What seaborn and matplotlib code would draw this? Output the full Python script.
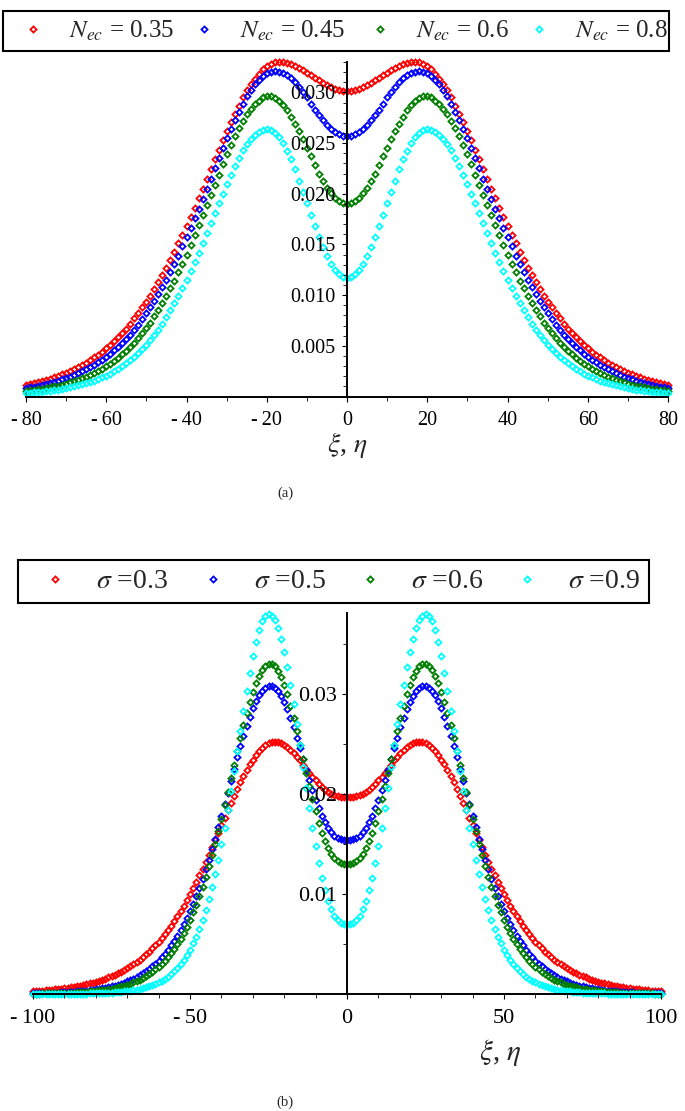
import numpy as np
import pandas as pd
import matplotlib
matplotlib.use("Agg")
import matplotlib.pyplot as plt
from matplotlib.patches import Rectangle
import seaborn as sns
from matplotlib.ticker import FixedLocator, MultipleLocator, FuncFormatter

sns.set_theme(style="white")
plt.rcParams["font.family"] = ["Liberation Serif", "DejaVu Serif"]
plt.rcParams["mathtext.fontset"] = "stix"

# ---------------- data (in units of 1e-4) ----------------
UNIT = 1e-4

# panel (a): xi from -80 to 80
xi_a = list(range(-80, 81))
labels_a = [r"$N_{ec}$ = 0.35", r"$N_{ec}$ = 0.45", r"$N_{ec}$ = 0.6", r"$N_{ec}$ = 0.8"]
nec_035 = [11, 12, 13, 14, 15, 16, 17, 19, 20, 22, 23, 25, 27, 29, 31, 33, 36, 39, 41, 44, 48,
           51, 55, 59, 63, 67, 72, 77, 82, 88, 93, 99, 106, 113, 120, 127, 135, 143, 151, 159, 168,
           177, 186, 196, 205, 215, 224, 234, 243, 253, 262, 271, 279, 287, 295, 302, 308, 313, 318, 323, 326,
           328, 330, 330, 330, 329, 328, 326, 324, 322, 319, 317, 314, 312, 309, 307, 305, 303, 302, 301,
           301, 301, 302, 303, 305, 307, 309, 312, 314, 317,
           319, 322, 324, 326, 328, 329, 330, 330, 330, 328,
           326, 323, 318, 313, 308, 302, 295, 287, 279, 271,
           262, 253, 243, 234, 224, 215, 205, 196, 186, 177,
           168, 159, 151, 143, 135, 127, 120, 113, 106, 99,
           93, 88, 82, 77, 72, 67, 63, 59, 55, 51,
           48, 44, 41, 39, 36, 33, 31, 29, 27, 25,
           23, 22, 20, 19, 17, 16, 15, 14, 13, 12, 11]
nec_045 = [8, 9, 9, 10, 11, 12, 13, 14, 15, 17, 18, 19, 21, 23, 25, 27, 29, 31, 34, 36, 39,
           42, 46, 49, 53, 57, 61, 66, 71, 76, 82, 88, 94, 101, 108, 115, 123, 131, 139, 148, 157,
           166, 176, 185, 195, 205, 215, 225, 235, 245, 255, 264, 273, 281, 289, 296, 302, 308, 312, 316, 319,
           320, 321, 320, 319, 317, 314, 310, 305, 300, 295, 289, 283, 278, 273, 268, 264, 261, 259, 257,
           257, 257, 259, 261, 264, 268, 273, 278, 283, 289,
           295, 300, 305, 310, 314, 317, 319, 320, 321, 320,
           319, 316, 312, 308, 302, 296, 289, 281, 273, 264,
           255, 245, 235, 225, 215, 205, 195, 185, 176, 166,
           157, 148, 139, 131, 123, 115, 108, 101, 94, 88,
           82, 76, 71, 66, 61, 57, 53, 49, 46, 42,
           39, 36, 34, 31, 29, 27, 25, 23, 21, 19,
           18, 17, 15, 14, 13, 12, 11, 10, 9, 9, 8]
nec_06 = [5, 6, 6, 7, 7, 8, 9, 10, 10, 11, 12, 14, 15, 16, 18, 19, 21, 23, 25, 27, 30,
          32, 35, 38, 42, 45, 49, 53, 58, 63, 68, 73, 79, 85, 92, 99, 107, 114, 123, 131, 140,
          149, 159, 169, 179, 189, 199, 209, 219, 229, 239, 248, 257, 265, 272, 279, 284, 289, 292, 295, 296,
          296, 294, 292, 288, 283, 276, 269, 262, 254, 245, 237, 228, 220, 213, 206, 201, 196, 193, 191,
          190, 191, 193, 196, 201, 206, 213, 220, 228, 237,
          245, 254, 262, 269, 276, 283, 288, 292, 294, 296,
          296, 295, 292, 289, 284, 279, 272, 265, 257, 248,
          239, 229, 219, 209, 199, 189, 179, 169, 159, 149,
          140, 131, 123, 114, 107, 99, 92, 85, 79, 73,
          68, 63, 58, 53, 49, 45, 42, 38, 35, 32,
          30, 27, 25, 23, 21, 19, 18, 16, 15, 14,
          12, 11, 10, 10, 9, 8, 7, 7, 6, 6, 5]
nec_08 = [3, 3, 4, 4, 4, 5, 5, 6, 6, 7, 8, 9, 10, 11, 12, 13, 14, 15, 17, 19, 20,
          22, 25, 27, 30, 33, 36, 39, 43, 47, 51, 56, 61, 66, 72, 78, 85, 92, 99, 107, 115,
          124, 133, 142, 151, 161, 171, 181, 191, 200, 210, 219, 227, 235, 243, 249, 254, 258, 261, 263, 264,
          263, 260, 256, 250, 242, 234, 224, 213, 202, 191, 179, 168, 157, 147, 139, 131, 125, 121, 118,
          117, 118, 121, 125, 131, 139, 147, 157, 168, 179,
          191, 202, 213, 224, 234, 242, 250, 256, 260, 263,
          264, 263, 261, 258, 254, 249, 243, 235, 227, 219,
          210, 200, 191, 181, 171, 161, 151, 142, 133, 124,
          115, 107, 99, 92, 85, 78, 72, 66, 61, 56,
          51, 47, 43, 39, 36, 33, 30, 27, 25, 22,
          20, 19, 17, 15, 14, 13, 12, 11, 10, 9,
          8, 7, 6, 6, 5, 5, 4, 4, 4, 3, 3]

# panel (b): xi from -100 to 100
xi_b = list(range(-100, 101))
labels_b = [r"$\sigma$ =0.3", r"$\sigma$ =0.5", r"$\sigma$ =0.6", r"$\sigma$ =0.9"]
sig_03 = [3, 3, 3, 3, 4, 4, 4, 5, 5, 5, 6, 6, 7, 7, 8, 8, 9, 10, 11, 11, 12,
          13, 14, 15, 17, 18, 19, 21, 22, 24, 26, 28, 30, 32, 34, 37, 40, 42, 46, 49, 52,
          56, 60, 64, 68, 73, 78, 83, 88, 94, 100, 106, 112, 119, 125, 132, 139, 147, 154, 161, 169,
          176, 184, 191, 198, 205, 212, 218, 224, 230, 234, 239, 243, 246, 249, 251, 252, 252, 252, 251, 249,
          247, 244, 241, 237, 234, 229, 225, 221, 217, 214, 210, 207, 204, 202, 200, 199, 198, 197, 197,
          197, 197, 197, 198, 199, 200, 202, 204, 207, 210,
          214, 217, 221, 225, 229, 234, 237, 241, 244, 247,
          249, 251, 252, 252, 252, 251, 249, 246, 243, 239,
          234, 230, 224, 218, 212, 205, 198, 191, 184, 176,
          169, 161, 154, 147, 139, 132, 125, 119, 112, 106,
          100, 94, 88, 83, 78, 73, 68, 64, 60, 56,
          52, 49, 46, 42, 40, 37, 34, 32, 30, 28,
          26, 24, 22, 21, 19, 18, 17, 15, 14, 13,
          12, 11, 11, 10, 9, 8, 8, 7, 7, 6,
          6, 5, 5, 5, 4, 4, 4, 3, 3, 3, 3]
sig_05 = [1, 1, 1, 1, 1, 1, 1, 1, 1, 2, 2, 2, 2, 2, 3, 3, 3, 3, 4, 4, 5,
          5, 6, 6, 7, 8, 8, 9, 10, 11, 13, 14, 15, 17, 19, 21, 23, 25, 28, 30, 33,
          37, 40, 44, 49, 53, 58, 64, 70, 76, 83, 90, 98, 106, 115, 125, 134, 145, 155, 167, 178,
          190, 201, 213, 225, 237, 248, 258, 268, 277, 286, 293, 299, 303, 306, 308, 308, 306, 303, 298, 292,
          285, 276, 267, 256, 246, 235, 224, 214, 204, 194, 186, 178, 172, 166, 162, 158, 156, 155, 154,
          154, 154, 155, 156, 158, 162, 166, 172, 178, 186,
          194, 204, 214, 224, 235, 246, 256, 267, 276, 285,
          292, 298, 303, 306, 308, 308, 306, 303, 299, 293,
          286, 277, 268, 258, 248, 237, 225, 213, 201, 190,
          178, 167, 155, 145, 134, 125, 115, 106, 98, 90,
          83, 76, 70, 64, 58, 53, 49, 44, 40, 37,
          33, 30, 28, 25, 23, 21, 19, 17, 15, 14,
          13, 11, 10, 9, 8, 8, 7, 6, 6, 5,
          5, 4, 4, 3, 3, 3, 3, 2, 2, 2,
          2, 2, 1, 1, 1, 1, 1, 1, 1, 1, 1]
sig_06 = [0, 0, 0, 1, 1, 1, 1, 1, 1, 1, 1, 1, 1, 1, 2, 2, 2, 2, 3, 3, 3,
          4, 4, 4, 5, 5, 6, 7, 8, 8, 9, 10, 12, 13, 14, 16, 18, 20, 22, 25, 27,
          30, 33, 37, 41, 45, 50, 55, 61, 67, 74, 82, 89, 98, 107, 117, 128, 139, 150, 163, 175,
          189, 202, 216, 229, 243, 256, 269, 281, 292, 302, 311, 318, 324, 328, 330, 330, 328, 323, 317, 309,
          300, 288, 276, 263, 249, 235, 221, 208, 195, 183, 171, 161, 153, 146, 140, 136, 133, 131, 130,
          130, 130, 131, 133, 136, 140, 146, 153, 161, 171,
          183, 195, 208, 221, 235, 249, 263, 276, 288, 300,
          309, 317, 323, 328, 330, 330, 328, 324, 318, 311,
          302, 292, 281, 269, 256, 243, 229, 216, 202, 189,
          175, 163, 150, 139, 128, 117, 107, 98, 89, 82,
          74, 67, 61, 55, 50, 45, 41, 37, 33, 30,
          27, 25, 22, 20, 18, 16, 14, 13, 12, 10,
          9, 8, 8, 7, 6, 5, 5, 4, 4, 4,
          3, 3, 3, 2, 2, 2, 2, 1, 1, 1,
          1, 1, 1, 1, 1, 1, 1, 1, 0, 0, 0]
sig_09 = [0, 0, 0, 0, 0, 0, 0, 0, 0, 0, 0, 0, 0, 0, 0, 0, 0, 0, 1, 1, 1,
          1, 1, 1, 1, 1, 2, 2, 2, 3, 3, 3, 4, 4, 5, 6, 7, 8, 9, 10, 12,
          13, 15, 17, 20, 23, 26, 30, 34, 39, 44, 51, 57, 65, 74, 84, 95, 107, 120, 134, 150,
          166, 184, 203, 223, 243, 263, 283, 303, 321, 338, 352, 364, 373, 378, 380, 378, 374, 366, 355, 342,
          327, 309, 290, 270, 249, 227, 206, 186, 166, 148, 131, 116, 104, 93, 85, 78, 74, 71, 70,
          70, 70, 71, 74, 78, 85, 93, 104, 116, 131,
          148, 166, 186, 206, 227, 249, 270, 290, 309, 327,
          342, 355, 366, 374, 378, 380, 378, 373, 364, 352,
          338, 321, 303, 283, 263, 243, 223, 203, 184, 166,
          150, 134, 120, 107, 95, 84, 74, 65, 57, 51,
          44, 39, 34, 30, 26, 23, 20, 17, 15, 13,
          12, 10, 9, 8, 7, 6, 5, 4, 4, 3,
          3, 3, 2, 2, 2, 1, 1, 1, 1, 1,
          1, 1, 1, 0, 0, 0, 0, 0, 0, 0,
          0, 0, 0, 0, 0, 0, 0, 0, 0, 0, 0]

colors = ["#ff0000", "#0000ff", "#008000", "#00ffff"]

# ---------------- figure ----------------
W, H = 685, 1111
fig = plt.figure(figsize=(W / 100, H / 100), dpi=100)


def px_axes(left, right, top, bottom):
    return fig.add_axes([left / W, 1 - bottom / H, (right - left) / W, (bottom - top) / H])


ax1 = px_axes(26, 668, 62, 396.5)
ax2 = px_axes(33, 661, 613, 993.5)


def draw(ax, x, series, labels):
    for y, lab, col in zip(series, labels, colors):
        df = pd.DataFrame({"x": x, "y": np.asarray(y, dtype=float) * UNIT})
        sns.lineplot(data=df, x="x", y="y", ax=ax, color=col, linestyle="",
                     marker="D", markersize=3.1, markerfacecolor="none",
                     markeredgecolor=col, markeredgewidth=1.3,
                     estimator=None, errorbar=None, sort=False, label=lab,
                     clip_on=False, zorder=2)
    if ax.get_legend() is not None:
        ax.get_legend().remove()


draw(ax1, xi_a, [nec_035, nec_045, nec_06, nec_08], labels_a)
draw(ax2, xi_b, [sig_03, sig_05, sig_06, sig_09], labels_b)

ax1.set_xlim(-80, 80)
ax1.set_ylim(0, 0.033)
ax2.set_xlim(-100, 100)
ax2.set_ylim(0, 0.0381)


def xfmt(v, pos):
    v = int(round(v))
    return f"-\u2009{abs(v)}" if v < 0 else f"{v}"


for ax in (ax1, ax2):
    ax.set_facecolor("white")
    ax.grid(False)
    for s in ("top", "right"):
        ax.spines[s].set_visible(False)
    for s in ("left", "bottom"):
        ax.spines[s].set_position(("data", 0))
        ax.spines[s].set_linewidth(1.4)
        ax.spines[s].set_color("black")
        ax.spines[s].set_zorder(3)
    ax.set_axisbelow(False)
    ax.set_xlabel("")
    ax.set_ylabel("")
    ax.tick_params(which="both", bottom=True, left=True, top=False, right=False,
                   direction="out", color="black", labelcolor="black")
    ax.tick_params(which="major", length=3.5, width=0.8)
    ax.tick_params(which="minor", length=3.0, width=0.6)
    ax.xaxis.set_major_formatter(FuncFormatter(xfmt))

ax1.tick_params(axis="x", which="major", labelsize=14.5, pad=7.0)
ax1.tick_params(axis="y", which="major", labelsize=14.5, pad=5.0)
ax2.tick_params(axis="x", which="major", labelsize=16, pad=7.5)
ax2.tick_params(axis="y", which="major", labelsize=16, pad=3.6)

ax1.xaxis.set_major_locator(FixedLocator(list(range(-80, 81, 20))))
ax1.xaxis.set_minor_locator(MultipleLocator(10))
ax1.yaxis.set_major_locator(FixedLocator([0.005, 0.010, 0.015, 0.020, 0.025, 0.030]))
ax1.yaxis.set_minor_locator(MultipleLocator(0.001))
ax1.yaxis.set_major_formatter(FuncFormatter(lambda v, p: f"{v:.3f}"))

ax2.xaxis.set_major_locator(FixedLocator([-100, -50, 0, 50, 100]))
ax2.xaxis.set_minor_locator(MultipleLocator(10))
ax2.yaxis.set_major_locator(FixedLocator([0.01, 0.02, 0.03]))
ax2.yaxis.set_minor_locator(MultipleLocator(0.005))
ax2.yaxis.set_major_formatter(FuncFormatter(lambda v, p: f"{v:.2f}"))

for ax in (ax1, ax2):
    for t in ax.get_xticklabels() + ax.get_yticklabels():
        t.set_zorder(4)

# axis titles and panel captions
fig.text(347 / W, 1 - 445 / H, r"$\xi$, $\eta$", ha="center", va="center", fontsize=20)
fig.text(500 / W, 1 - 1053 / H, r"$\xi$, $\eta$", ha="center", va="center", fontsize=21)
fig.text(285 / W, 1 - 493 / H, "(a)", ha="center", va="center", fontsize=10.5)
fig.text(285 / W, 1 - 1102 / H, "(b)", ha="center", va="center", fontsize=10.5)


# legends: one framed box per panel, entries placed at the reference positions
def make_legend(ax, box, marker_x, gap, fs):
    left, right, top, bottom = box
    fig.add_artist(Rectangle((left / W, 1 - bottom / H), (right - left) / W, (bottom - top) / H,
                             transform=fig.transFigure, fill=False, lw=1.5, ec="black", zorder=5))
    cy = (top + bottom) / 2
    em = fs * 100 / 72
    hl = 0.7
    h, l = ax.get_legend_handles_labels()
    for hi, li, mx in zip(h, l, marker_x):
        fig.legend([hi], [li], loc="center left",
                   bbox_to_anchor=((mx - hl * em / 2) / W, 1 - cy / H),
                   frameon=False, fontsize=fs, handlelength=hl,
                   handletextpad=(gap - hl * em / 2) / em, borderpad=0,
                   borderaxespad=0, numpoints=1)


make_legend(ax1, (3, 669, 11, 51), [33, 204, 380, 539], 36, 18)
make_legend(ax2, (18, 649, 560, 603), [55, 213, 370, 527], 41, 20)

fig.savefig("out.png", dpi=100, facecolor="white")
